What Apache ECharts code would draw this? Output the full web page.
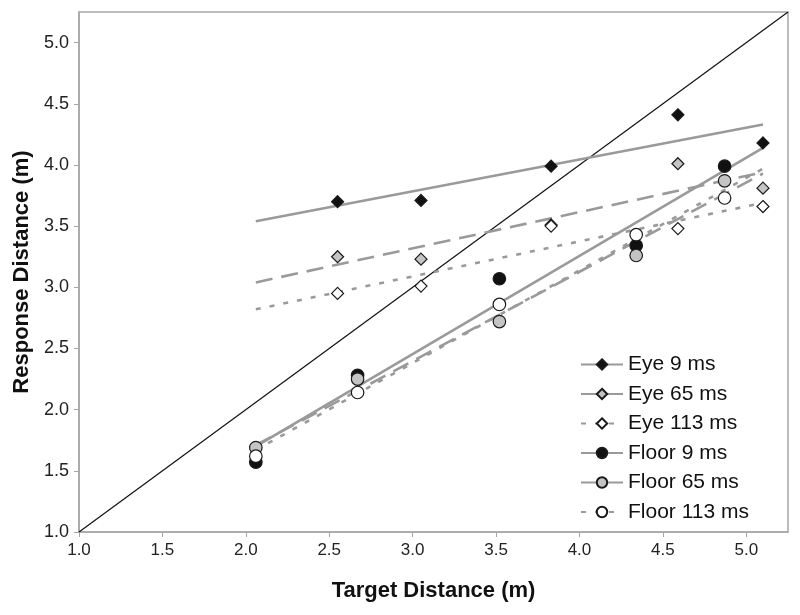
<!DOCTYPE html>
<html>
<head>
<meta charset="utf-8">
<script src="https://cdn.jsdelivr.net/npm/echarts@6/dist/echarts.min.js"></script>
<style>
html,body{margin:0;padding:0;background:#fff;}
#chart{width:800px;height:615px;}
</style>
</head>
<body>
<div id="chart"></div>
<script>
// Target distances (m)
const eyeX = [2.55, 3.05, 3.83, 4.59, 5.10];
const floorX = [2.06, 2.67, 3.52, 4.34, 4.87];
// Response distances (m)
const eye9 = [3.70, 3.71, 3.99, 4.41, 4.18];
const eye65 = [3.25, 3.23, 3.51, 4.01, 3.81];
const eye113 = [2.95, 3.01, 3.50, 3.48, 3.66];
const floor9 = [1.57, 2.28, 3.07, 3.34, 3.99];
const floor65 = [1.69, 2.25, 2.72, 3.26, 3.87];
const floor113 = [1.62, 2.14, 2.86, 3.43, 3.73];
// Linear trend lines (endpoints)
const trendX = [2.06, 5.10];
const eye9Trend = [3.54, 4.33];
const eye65Trend = [3.04, 3.94];
const eye113Trend = [2.82, 3.69];
const floor9Trend = [1.70, 4.14];
const floor65Trend = [1.71, 3.93];
const floor113Trend = [1.67, 3.97];
// Identity line
const identity = [1, 5.25];
// Axis ticks
const axisMin = 1.0, axisMax = 5.25, tickStep = 0.5;
const tickValues = [1.0, 1.5, 2.0, 2.5, 3.0, 3.5, 4.0, 4.5, 5.0];
const names = ['Eye 9 ms', 'Eye 65 ms', 'Eye 113 ms', 'Floor 9 ms', 'Floor 65 ms', 'Floor 113 ms'];

const zip = (xs, ys) => xs.map((x, i) => [x, ys[i]]);
const FONT = 'Liberation Sans, Arial, sans-serif';
const LINE = '#9a9a9a';
const EDGE = '#1a1a1a';
const dashLong = [17, 9];
const dashShort = [5, 9];

const groups = [
  {name: names[0], x: eyeX, y: eye9, t: eye9Trend, sym: 'diamond', fill: '#111', dash: 'solid'},
  {name: names[1], x: eyeX, y: eye65, t: eye65Trend, sym: 'diamond', fill: '#c4c4c4', dash: dashLong},
  {name: names[2], x: eyeX, y: eye113, t: eye113Trend, sym: 'diamond', fill: '#ffffff', dash: dashShort},
  {name: names[3], x: floorX, y: floor9, t: floor9Trend, sym: 'circle', fill: '#111', dash: 'solid'},
  {name: names[4], x: floorX, y: floor65, t: floor65Trend, sym: 'circle', fill: '#c4c4c4', dash: dashLong},
  {name: names[5], x: floorX, y: floor113, t: floor113Trend, sym: 'circle', fill: '#ffffff', dash: dashShort}
];

const series = [];
series.push({
  name: 'identity', type: 'line', data: zip(identity, identity),
  symbol: 'none', lineStyle: {color: '#111', width: 1.2}, z: 1, silent: true
});
groups.forEach(g => {
  series.push({
    name: g.name, type: 'line', data: zip(trendX, g.t),
    symbol: g.sym, showSymbol: false, symbolSize: 12,
    itemStyle: {color: g.fill, borderColor: EDGE, borderWidth: 1.2},
    lineStyle: {color: LINE, width: 2.6, type: g.dash},
    z: 2, silent: true
  });
});
groups.forEach(g => {
  series.push({
    name: g.name + ' pts', type: 'scatter', data: zip(g.x, g.y),
    symbol: g.sym, symbolSize: g.sym === 'diamond' ? 12 : 12.5,
    itemStyle: {color: g.fill, borderColor: EDGE, borderWidth: 1.2, opacity: 1},
    z: 3, silent: true
  });
});

function makeAxis(name, gap, labelSize) {
  return {
    type: 'value', min: axisMin, max: axisMax, interval: tickStep,
    axisLine: {show: true, lineStyle: {color: '#a6a6a6', width: 1.5}},
    axisTick: {show: true, length: 5, customValues: tickValues, lineStyle: {color: '#a6a6a6', width: 1}},
    splitLine: {show: false},
    axisLabel: {
      color: '#222', fontFamily: FONT, fontSize: labelSize, margin: 10,
      customValues: tickValues,
      formatter: v => v.toFixed(1)
    },
    name: name, nameGap: gap, nameLocation: 'middle',
    nameTextStyle: {color: '#111', fontFamily: FONT, fontSize: 22, fontWeight: 'bold'}
  };
}

const chart = echarts.init(document.getElementById('chart'), null, {renderer: 'canvas'});
chart.setOption({
  animation: false,
  backgroundColor: '#fff',
  grid: {left: 79, right: 12, top: 12, bottom: 83, show: true, borderColor: '#a6a6a6', borderWidth: 1.5, backgroundColor: 'transparent'},
  xAxis: makeAxis('Target Distance (m)', 48, 17),
  yAxis: makeAxis('Response Distance (m)', 46, 18),
  legend: {
    data: names, orient: 'vertical', left: 575, top: 349,
    itemWidth: 42, itemHeight: 13, itemGap: 8.5, selectedMode: false,
    textStyle: {color: '#111', fontFamily: FONT, fontSize: 21, padding: [0, 0, 0, 0]},
    inactiveColor: '#111'
  },
  series: series
});
</script>
</body>
</html>
